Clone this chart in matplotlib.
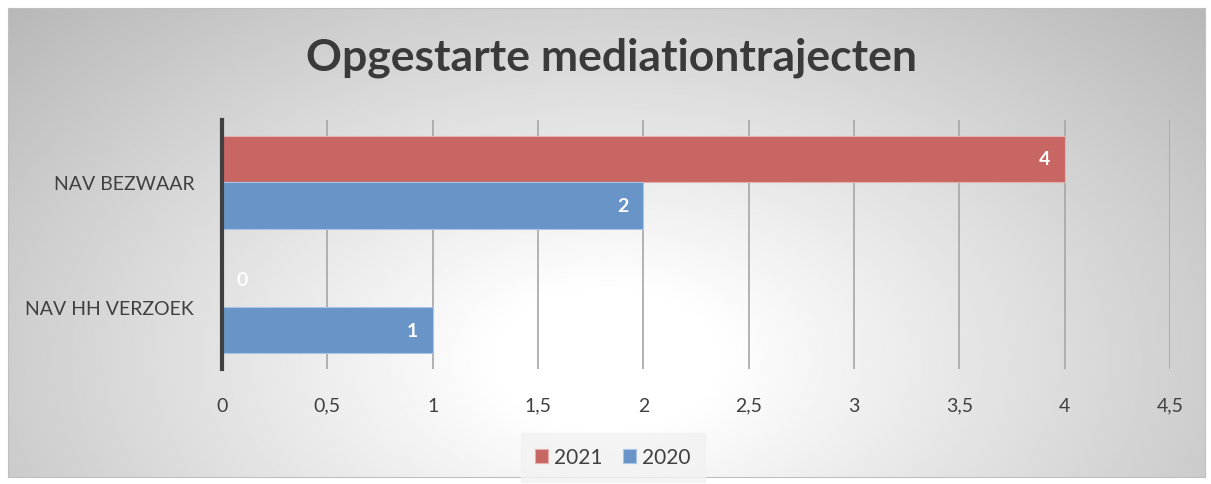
import numpy as np
import matplotlib.pyplot as plt

categories = ["NAV HH VERZOEK", "NAV BEZWAAR"]
series_names = ["2021", "2020"]
values_2021 = [0, 4]
values_2020 = [1, 2]
xticks = [0, 0.5, 1, 1.5, 2, 2.5, 3, 3.5, 4, 4.5]
xtick_labels = ["0", "0,5", "1", "1,5", "2", "2,5", "3", "3,5", "4", "4,5"]

red = "#c86664"
blue = "#6894c8"
text_col = "#404040"
plt.rcParams["font.family"] = ["Lato", "DejaVu Sans"]

fig = plt.figure(figsize=(12.11, 4.85), dpi=100)

# gradient background of the chart area
bg = fig.add_axes([8 / 1211, 7 / 485, 1197 / 1211, 469 / 485], zorder=0)
yy, xx = np.mgrid[0:1:300j, 0:1:600j]
r = np.sqrt(((xx - 0.5) / 0.6) ** 2 + ((yy - 0.25) / 0.95) ** 2)
shade = 1.0 - 0.24 * np.clip(r - 0.15, 0, 1) / 0.85
bg.imshow(shade, cmap="gray", vmin=0, vmax=1, aspect="auto", extent=[0, 1, 0, 1], origin="lower")
bg.set_xticks([])
bg.set_yticks([])
for s in bg.spines.values():
    s.set_color("#bfbfbf")

ax = fig.add_axes([222 / 1211, 115 / 485, 948 / 1211, 249 / 485], zorder=1)
ax.patch.set_alpha(0)

y = np.arange(len(categories))
h = 0.375
b21 = ax.barh(y + h / 2, values_2021, height=h, color=red, edgecolor="#e6b0ae", linewidth=0.8, label=series_names[0], zorder=3)
b20 = ax.barh(y - h / 2, values_2020, height=h, color=blue, edgecolor="#a9c4e4", linewidth=0.8, label=series_names[1], zorder=3)

for bars in (b21, b20):
    for bar in bars:
        w = bar.get_width()
        yc = bar.get_y() + bar.get_height() / 2
        if w > 0:
            ax.text(w - 0.07, yc, f"{w:g}", ha="right", va="center", color="white", fontsize=14, fontweight="bold", zorder=4)
        else:
            ax.text(0.07, yc + 0.03, f"{w:g}", ha="left", va="center", color="white", fontsize=14, fontweight="bold", zorder=4)

ax.set_xlim(0, 4.5)
ax.set_ylim(-0.5, 1.5)
ax.set_xticks(xticks)
ax.set_xticklabels(xtick_labels)
ax.set_yticks(y)
ax.set_yticklabels(categories)
ax.tick_params(axis="both", length=0, labelsize=14, labelcolor=text_col)
ax.tick_params(axis="x", pad=20)
ax.tick_params(axis="y", pad=20)
ax.grid(axis="x", color="#a6a6a6", linewidth=1.2, zorder=0)
for side in ["top", "right", "bottom"]:
    ax.spines[side].set_visible(False)
ax.spines["left"].set_color("#404040")
ax.spines["left"].set_linewidth(3)
ax.spines["left"].set_zorder(5)

fig.text(0.505, 0.88, "Opgestarte mediationtrajecten", ha="center", va="center", fontsize=32, fontweight="bold", color="#3a3a3a")

leg = fig.legend(handles=[b21, b20], loc="center", bbox_to_anchor=(0.506, 0.055), ncol=2, frameon=True,
                 fontsize=15, handlelength=0.6, handleheight=0.6, handletextpad=0.3, columnspacing=1.0)
leg.get_frame().set_facecolor("#f2f2f2")
leg.get_frame().set_edgecolor("#f2f2f2")
leg.get_frame().set_boxstyle("square")
for t in leg.get_texts():
    t.set_color(text_col)

fig.savefig("out.png", dpi=100)
